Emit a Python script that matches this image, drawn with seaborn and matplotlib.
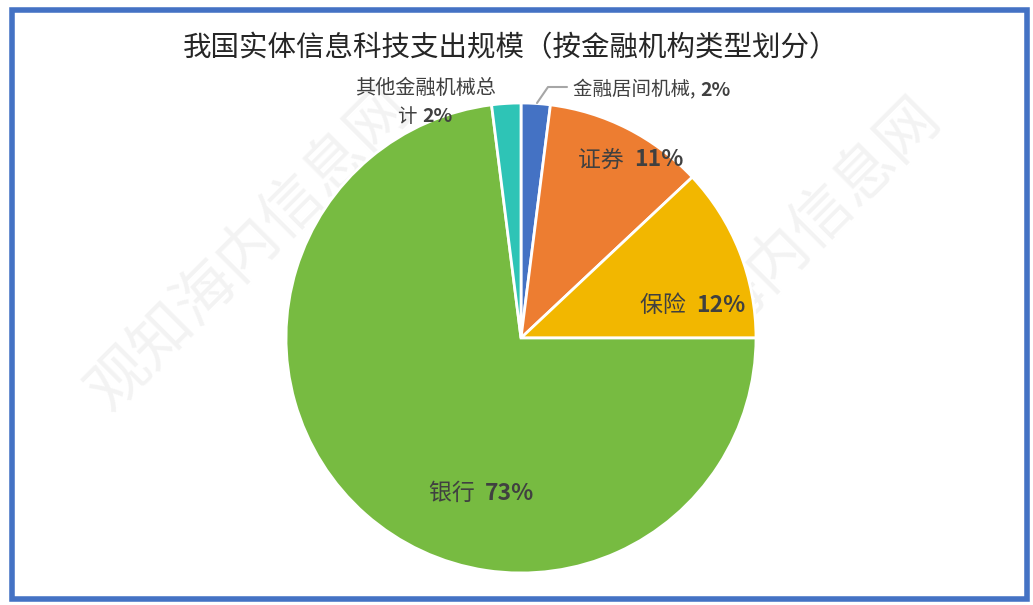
import matplotlib
matplotlib.use("Agg")
import matplotlib.pyplot as plt
from matplotlib.patches import Rectangle
import seaborn as sns

# data
categories = ['金融居间机械', '证券', '保险', '银行', '其他金融机械总计']
shares = [2, 11, 12, 73, 2]
colors = ['#4472C4', '#ED7D31', '#F2B700', '#77BB41', '#2EC4B6']
title = '我国实体信息科技支出规模（按金融机构类型划分）'

sns.set_theme(style='white')
plt.rcParams['font.family'] = ['Noto Sans CJK SC', 'DejaVu Sans']

W, H = 1033, 605
fig = plt.figure(figsize=(W / 100, H / 100), dpi=100)
ax = fig.add_axes([0, 0, 1, 1])

cx, cy, r = 521, H - 338, 235
wedges, _ = ax.pie(shares, colors=colors, startangle=90, counterclock=False,
                   center=(cx, cy), radius=r,
                   wedgeprops=dict(edgecolor='white', linewidth=2))
ax.set_xlim(0, W)
ax.set_ylim(0, H)
ax.set_aspect('equal')
ax.axis('off')

txt = '#404040'
def label(x, y, name, pct, size=16.5, gap='  '):
    t = ax.text(x, H - y, name + gap, ha='left', va='center', fontsize=size, color=txt)
    ax.annotate(pct, xy=(1, 0.5), xycoords=t, ha='left', va='center',
                fontsize=size, color=txt, fontweight='bold')

label(578, 160, categories[1], f'{shares[1]}%')
label(640, 305, categories[2], f'{shares[2]}%')
label(429, 493, categories[3], f'{shares[3]}%')

# small-slice labels
label(573, 90, categories[0] + ',', f'{shares[0]}%', size=14, gap=' ')
ax.plot([537, 548, 567], [H - 103, H - 87, H - 87], color='#A6A6A6', lw=1.5)
ax.text(425, H - 88, '其他金融机械总', ha='center', va='center', fontsize=14.5, color=txt)
label(398, 116, '计', f'{shares[4]}%', size=14, gap=' ')

ax.text(511, H - 48, title, ha='center', va='center', fontsize=20.5, color='#262626')

# watermark
for (x, y) in [(250, 250), (780, 260)]:
    ax.text(x, H - y, '观知海内信息网', fontsize=44, color='#D9D9D9', alpha=0.3,
            rotation=45, ha='center', va='center', zorder=0.5)

fig.patches.append(Rectangle((12 / W, 6 / H), 1015 / W, 589 / H, transform=fig.transFigure,
                             fill=False, edgecolor='#4472C4', linewidth=4))
fig.savefig('out.png', dpi=100)
